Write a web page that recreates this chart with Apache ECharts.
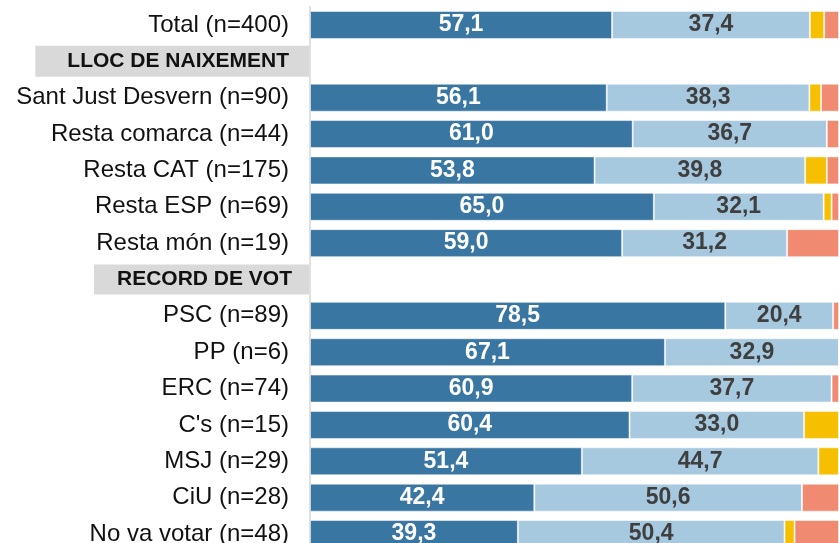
<!DOCTYPE html>
<html>
<head>
<meta charset="utf-8">
<script src="https://cdn.jsdelivr.net/npm/echarts@6/dist/echarts.min.js"></script>
<style>
  html, body { margin: 0; padding: 0; background: #fff; }
  #chart { width: 839px; height: 543px; }
</style>
</head>
<body>
<div id="chart"></div>
<script>
// categories (headers have no bars)
const categories = [
  "Total (n=400)",
  "LLOC DE NAIXEMENT",
  "Sant Just Desvern (n=90)",
  "Resta comarca (n=44)",
  "Resta CAT (n=175)",
  "Resta ESP (n=69)",
  "Resta món (n=19)",
  "RECORD DE VOT",
  "PSC (n=89)",
  "PP (n=6)",
  "ERC (n=74)",
  "C's (n=15)",
  "MSJ (n=29)",
  "CiU (n=28)",
  "No va votar (n=48)"
];
const headerStyles = { "LLOC DE NAIXEMENT": "h1", "RECORD DE VOT": "h2" };

// percentages per segment, '-' for header rows
const darkBlue  = [57.1, "-", 56.1, 61.0, 53.8, 65.0, 59.0, "-", 78.5, 67.1, 60.9, 60.4, 51.4, 42.4, 39.3];
const lightBlue = [37.4, "-", 38.3, 36.7, 39.8, 32.1, 31.2, "-", 20.4, 32.9, 37.7, 33.0, 44.7, 50.6, 50.4];
const yellow    = [2.7,  "-", 2.2,  0,    4.1,  1.5,  0,    "-", 0,    0,    0,    6.6,  3.9,  0,    1.9];
const salmon    = [2.8,  "-", 3.4,  2.3,  2.3,  1.4,  9.8,  "-", 1.1,  0,    1.4,  0,    0,    7.0,  8.4];

const fmt = (p) => p.value.toFixed(1).replace(".", ",");
const font = "Arial, 'Liberation Sans', sans-serif";

function seg(name, data, color, labelColor) {
  return {
    name: name,
    type: "bar",
    stack: "total",
    data: data,
    barWidth: 28,
    itemStyle: { color: color, borderColor: "rgba(255,255,255,0.5)", borderWidth: 1 },
    label: labelColor ? {
      show: true,
      position: "inside",
      formatter: fmt,
      color: labelColor,
      fontSize: 23,
      fontWeight: "bold",
      fontFamily: font
    } : { show: false },
    silent: true
  };
}

const chart = echarts.init(document.getElementById("chart"));
chart.setOption({
  animation: false,
  // last row is cut off by the bottom edge, like the reference
  grid: {
    left: 310, right: 0, top: 6.8, height: 545.4,
    containLabel: false,
    outerBoundsMode: "none"
  },
  xAxis: { type: "value", min: 0, max: 100, show: false },
  yAxis: {
    type: "category",
    data: categories,
    inverse: true,
    axisLine: { show: true, lineStyle: { color: "#e0e0e0", width: 2 } },
    axisTick: { show: false },
    splitLine: { show: false },
    axisLabel: {
      margin: 1,
      interval: 0,
      formatter: (v) => headerStyles[v] ? "{" + headerStyles[v] + "|" + v + "}" : "{n|" + v + "}",
      rich: {
        n: { fontSize: 24, color: "#111", fontFamily: font, padding: [0, 20, 0, 0] },
        h1: {
          fontSize: 21, fontWeight: "bold", color: "#111", fontFamily: font,
          backgroundColor: "#d9d9d9", height: 31, lineHeight: 31, padding: [0, 20, 0, 32]
        },
        h2: {
          fontSize: 21, fontWeight: "bold", color: "#111", fontFamily: font,
          backgroundColor: "#d9d9d9", height: 30, lineHeight: 30, padding: [0, 17, 0, 23]
        }
      }
    }
  },
  series: [
    seg("dark", darkBlue, "#3a76a2", "#ffffff"),
    seg("light", lightBlue, "#a7c9e0", "#3f3f3f"),
    seg("yellow", yellow, "#f6c000", null),
    seg("salmon", salmon, "#f08a70", null)
  ]
});
</script>
</body>
</html>
